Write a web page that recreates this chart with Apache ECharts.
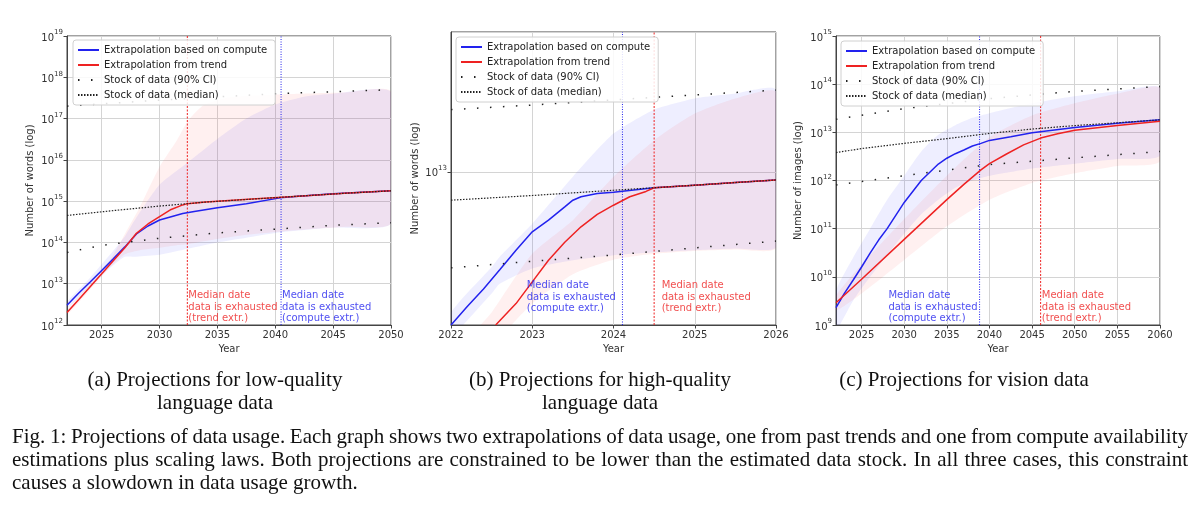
<!DOCTYPE html>
<html><head><meta charset="utf-8">
<script src="https://cdn.jsdelivr.net/npm/echarts/dist/echarts.min.js"></script>
<style>html,body{margin:0;padding:0;background:#fff}#c{width:1200px;height:512px}</style>
</head><body><div id="c"></div>
<script>
// ---------------- Panel (a): low-quality language data ----------------
const aComputeYears = [2022,2023,2024,2025,2026,2027,2028,2029,2030,2031,2032,2033,2035,2037.5,2040.4,2042,2045,2050];
const aComputeVals  = [3.0e12,5.9e12,1.1e13,2.1e13,4.0e13,7.8e13,1.6e14,2.5e14,3.5e14,4.2e14,5.0e14,5.6e14,6.9e14,8.7e14,1.2e15,1.32e15,1.51e15,1.78e15];
const aTrendYears = [2022,2023,2024,2025,2026,2027,2028,2029,2030,2031,2032,2032.4,2034,2038,2042,2046,2050];
const aTrendVals  = [2.0e12,4.1e12,8.5e12,1.74e13,3.6e13,7.4e13,1.66e14,2.8e14,4.2e14,6.3e14,8.1e14,8.7e14,9.5e14,1.12e15,1.32e15,1.55e15,1.78e15];
const aMedianYears = [2022,2026,2030,2034,2038,2042,2046,2050];
const aMedianVals  = [4.5e14,5.9e14,7.6e14,9.5e14,1.12e15,1.32e15,1.55e15,1.78e15];
const aCIUpYears = [2022,2030,2040,2050];
const aCIUpVals  = [2.0e17,2.8e17,4.0e17,5.0e17];
const aCILoYears = [2022,2025,2030,2035,2040,2045,2050];
const aCILoVals  = [5.7e13,8.5e13,1.26e14,1.7e14,2.1e14,2.6e14,3.0e14];
const aTrendBandYears = [2022,2024,2025.7,2027,2028.3,2030,2031.5,2032.5,2033.8,2035.8,2038,2042,2046,2050];
const aTrendBandUp = [2.3e12,1.0e13,3.7e13,1.6e14,7.2e14,6.8e15,3.0e16,9.1e16,2.1e17,3.2e17,3.6e17,4.0e17,4.3e17,4.5e17];
const aTrendBandLo = [1.74e12,7.2e12,2.5e13,5.2e13,6.5e13,7.4e13,8.5e13,9.1e13,1.07e14,1.32e14,1.58e14,2.0e14,2.4e14,2.9e14];
const aComputeBandYears = [2022,2024,2026,2027,2028,2030,2032.5,2035,2037.5,2040,2042.5,2045,2050];
const aComputeBandUp = [3.6e12,1.4e13,6.3e13,1.4e14,4.0e14,2.5e15,8.9e15,3.2e16,1.0e17,2.2e17,3.4e17,4.0e17,4.3e17];
const aComputeBandLo = [2.5e12,8.9e12,2.8e13,4.5e13,4.5e13,5.0e13,7.1e13,1.0e14,1.3e14,1.7e14,2.0e14,2.3e14,2.9e14];
const aVlineTrend = 2032.4, aVlineCompute = 2040.5;
const aXTicks = [2025,2030,2035,2040,2045,2050];

// ---------------- Panel (b): high-quality language data ----------------
const bComputeYears = [2022,2022.2,2022.4,2022.6,2022.8,2023,2023.2,2023.4,2023.5,2023.6,2023.8,2024,2024.5,2025,2025.5,2026];
const bComputeVals  = [3.0e12,3.47e12,3.98e12,4.63e12,5.4e12,6.24e12,6.84e12,7.59e12,8.0e12,8.22e12,8.43e12,8.51e12,8.82e12,9.0e12,9.19e12,9.38e12];
const bTrendYears = [2022.55,2022.8,2023,2023.2,2023.4,2023.6,2023.8,2024,2024.2,2024.4,2024.5,2025,2025.5,2026];
const bTrendVals  = [3.0e12,3.55e12,4.21e12,4.99e12,5.75e12,6.49e12,7.16e12,7.69e12,8.22e12,8.57e12,8.82e12,9.0e12,9.19e12,9.38e12];
const bMedianYears = [2022,2023,2024,2025,2026];
const bMedianVals  = [8.0e12,8.3e12,8.65e12,9.0e12,9.38e12];
const bCIYears = [2022,2023,2024,2025,2026];
const bCIUpVals = [1.63e13,1.69e13,1.76e13,1.83e13,1.9e13];
const bCILoVals = [4.7e12,4.95e12,5.2e12,5.5e12,5.8e12];
const bComputeBandYears = [2022,2022.5,2022.6,2023,2023.5,2024,2024.5,2025,2025.5,2026];
const bComputeBandUp = [3.3e12,4.73e12,5.13e12,6.65e12,9.62e12,1.35e13,1.63e13,1.78e13,1.85e13,1.9e13];
const bComputeBandLo = [2.75e12,3.84e12,4.15e12,4.68e12,4.99e12,5.19e12,5.31e12,5.4e12,5.47e12,5.55e12];
const bTrendBandYears = [2022.3,2022.5,2023,2023.5,2024,2024.5,2025,2025.5,2026];
const bTrendBandUp = [2.82e12,3.31e12,5.25e12,6.84e12,9.62e12,1.28e13,1.58e13,1.78e13,1.87e13];
const bTrendBandLo = [2.0e12,2.51e12,3.55e12,4.47e12,5.01e12,5.25e12,5.37e12,5.43e12,5.5e12];
const bVlineCompute = 2024.11, bVlineTrend = 2024.5;
const bXTicks = [2022,2023,2024,2025,2026];

// ---------------- Panel (c): vision data ----------------
const cComputeYears = [2022,2023,2024,2025,2026,2027,2028,2030,2032,2034,2035,2036,2037,2038,2039,2040,2042.5,2045,2050,2055,2060];
const cComputeVals  = [2.3e9,4.6e9,8.5e9,1.6e10,3.1e10,5.8e10,1.0e11,3.5e11,1.0e12,2.2e12,2.9e12,3.6e12,4.3e12,5.2e12,5.9e12,6.8e12,8.1e12,9.8e12,1.26e13,1.55e13,1.82e13];
const cTrendYears = [2022,2025,2030,2035,2037,2039,2040,2042,2044,2046,2048,2050,2055,2060];
const cTrendVals  = [2.9e9,8.9e9,6.0e10,4.0e11,8.3e11,1.66e12,2.24e12,3.55e12,5.5e12,7.6e12,9.3e12,1.1e13,1.38e13,1.7e13];
const cMedianYears = [2022,2025,2030,2035,2040,2045,2050,2055,2060];
const cMedianVals  = [3.8e12,4.6e12,5.9e12,7.4e12,9.5e12,1.17e13,1.38e13,1.58e13,1.82e13];
const cCIYears = [2022,2030,2040,2050,2060];
const cCIUpVals = [1.86e13,3.1e13,5.0e13,7.1e13,8.9e13];
const cCILoVals = [8.1e11,1.26e12,2.14e12,2.95e12,4.0e12];
const cComputeBandYears = [2022,2024,2026,2028,2030,2032,2034,2036,2038,2040,2045,2050,2055,2060];
const cComputeBandUp = [5.0e9,2.5e10,1.0e11,4.0e11,1.26e12,4.0e12,8.9e12,1.41e13,2.0e13,2.5e13,4.0e13,5.6e13,7.1e13,8.5e13];
const cComputeBandLo = [7.9e8,3.2e9,1.0e10,2.8e10,7.9e10,2.0e11,4.0e11,7.1e11,1.0e12,1.26e12,1.78e12,2.24e12,2.8e12,3.3e12];
const cTrendBandYears = [2022,2025,2030,2035,2040,2045,2050,2055,2060];
const cTrendBandUp = [4.0e9,1.78e10,1.58e11,1.26e12,7.9e12,2.24e13,4.0e13,6.3e13,8.3e13];
const cTrendBandLo = [2.0e9,4.5e9,2.24e10,1.12e11,4.0e11,8.9e11,1.41e12,2.0e12,2.5e12];
const cVlineCompute = 2038.84, cVlineTrend = 2046.0;
const cXTicks = [2025,2030,2035,2040,2045,2050,2055,2060];

// ---------------- Texts ----------------
const legendNames = ['Extrapolation based on compute','Extrapolation from trend','Stock of data (90% CI)','Stock of data (median)'];
const annTrend = 'Median date\ndata is exhausted\n(trend extr.)';
const annCompute = 'Median date\ndata is exhausted\n(compute extr.)';
const subCaptions = ['(a) Projections for low-quality\nlanguage data','(b) Projections for high-quality\nlanguage data','(c) Projections for vision data'];
const figCaptionLines = [
 'Fig. 1: Projections of data usage. Each graph shows two extrapolations of data usage, one from past trends and one from compute availability',
 'estimations plus scaling laws. Both projections are constrained to be lower than the estimated data stock. In all three cases, this constraint',
 'causes a slowdown in data usage growth.'
];

// ---------------- Helpers ----------------
const FONT = 'DejaVu Sans';
const BLUE = '#2222ee', RED = '#ee2222', DOT = '#222';
const pairs = (xs, ys) => xs.map((x, i) => [x, ys[i]]);
const mctx = document.createElement('canvas').getContext('2d');
mctx.font = '10px "DejaVu Sans"';
const annW = mctx.measureText('data is exhausted').width;

function lineS(gi, name, xs, ys, color, width, type, z) {
  return {type:'line', name, xAxisIndex:gi, yAxisIndex:gi, data:pairs(xs, ys), symbol:'none', showSymbol:false,
    smooth:false, silent:true, z, lineStyle:{color, width, type}, itemStyle:{color}, animation:false};
}
function bandS(gi, xs, lo, up, fill) {
  return {type:'custom', xAxisIndex:gi, yAxisIndex:gi, clip:true, silent:true, z:1, animation:false,
    data: xs.map((x, i) => [x, lo[i], up[i]]), encode:{x:0, y:[1,2]},
    renderItem: function (params, api) {
      if (params.dataIndex !== 0) return null;
      const pts = [];
      for (let i = 0; i < xs.length; i++) pts.push(api.coord([xs[i], up[i]]));
      for (let i = xs.length - 1; i >= 0; i--) pts.push(api.coord([xs[i], lo[i]]));
      return {type:'polygon', shape:{points:pts, smooth:0.2}, style:{fill}};
    }};
}
function vlineS(gi, x, ymin, ymax, color, type) {
  return {type:'line', xAxisIndex:gi, yAxisIndex:gi, data:[[x, ymin],[x, ymax]], symbol:'none', silent:true, z:3,
    lineStyle:{color, width:1, type}, animation:false};
}
function annS(gi, x, y, text, color, side, gap, lift) {
  return {type:'scatter', xAxisIndex:gi, yAxisIndex:gi, z:6, silent:true, symbolSize:1, animation:false,
    itemStyle:{color:'rgba(0,0,0,0)'}, data:[[x, y]],
    label:{show:true, formatter:text, color, fontFamily:FONT, fontSize:10, lineHeight:11.7, align:'left', verticalAlign:'bottom',
      position: side === 'right' ? [gap, -lift] : [-gap - annW, -lift]}};
}
function panelSeries(gi, d) {
  return [
    bandS(gi, d.cbx, d.cblo, d.cbup, 'rgba(40,40,255,0.08)'),
    bandS(gi, d.tbx, d.tblo, d.tbup, 'rgba(255,40,40,0.07)'),
    vlineS(gi, d.vt, d.ymin, d.ymax, RED, [2,1.5]),
    vlineS(gi, d.vc, d.ymin, d.ymax, BLUE, [1,1.5]),
    lineS(gi, legendNames[0], d.cx, d.cy, BLUE, 1.5, 'solid', 4),
    lineS(gi, legendNames[1], d.tx, d.ty, RED, 1.5, 'solid', 4),
    lineS(gi, legendNames[2], d.ciux, d.ciuy, DOT, 1.5, [1.5,11.5], 5),
    lineS(gi, legendNames[2], d.cilx, d.cily, DOT, 1.5, [1.5,11.5], 5),
    lineS(gi, legendNames[3], d.mx, d.my, DOT, 1.2, [1.5,1.5], 5),
  ].concat(d.ann);
}

function supFormatter(v) {
  const e = Math.log10(v);
  if (Math.abs(e - Math.round(e)) > 1e-6) return '';
  return '{b|10}{s|' + Math.round(e) + '}';
}
const yRich = {b:{fontFamily:FONT, fontSize:10, color:'#333', verticalAlign:'bottom', lineHeight:14},
               s:{fontFamily:FONT, fontSize:7, color:'#333', verticalAlign:'top', lineHeight:14}};

function xAxisDef(gi, min, max, ticks) {
  return {type:'value', gridIndex:gi, min, max, name:'Year', nameLocation:'middle', nameGap:18,
    nameTextStyle:{fontFamily:FONT, fontSize:10, color:'#333'},
    axisLine:{show:true, lineStyle:{color:'#444', width:1}},
    axisTick:{show:true, length:3.5, lineStyle:{color:'#444'}, customValues:ticks},
    axisLabel:{customValues:ticks, formatter:(v) => String(Math.round(v)), fontFamily:FONT, fontSize:10, color:'#333', margin:5, hideOverlap:false},
    splitLine:{show:true, lineStyle:{color:'#d4d4d4', width:1}}};
}
function yAxisDef(gi, min, max, name, gap, showEnds) {
  return {type:'log', logBase:10, gridIndex:gi, min, max, splitNumber:8, name, nameLocation:'middle', nameGap:gap,
    nameTextStyle:{fontFamily:FONT, fontSize:10, color:'#333'},
    axisLine:{show:true, lineStyle:{color:'#444', width:1}},
    axisTick:{show:true, length:3.5, lineStyle:{color:'#444'}},
    axisLabel:{formatter:supFormatter, rich:yRich, margin:4, showMinLabel:showEnds, showMaxLabel:showEnds, hideOverlap:false},
    splitLine:{show:true, lineStyle:{color:'#d4d4d4', width:1}}};
}
function legendDef(left, top) {
  return {data:legendNames, orient:'vertical', left, top, itemWidth:21, itemHeight:10, itemGap:5, itemTextGap:8,
    itemStyle:{opacity:0}, icon:undefined,
    textStyle:{fontFamily:FONT, fontSize:10, color:'#222'}, backgroundColor:'rgba(255,255,255,0.85)',
    borderColor:'#d0d0d0', borderWidth:1, borderRadius:3, padding:[5,8,5,4], z:20, selectedMode:false};
}

const A = {cx:aComputeYears, cy:aComputeVals, tx:aTrendYears, ty:aTrendVals, mx:aMedianYears, my:aMedianVals,
  ciux:aCIUpYears, ciuy:aCIUpVals, cilx:aCILoYears, cily:aCILoVals,
  cbx:aComputeBandYears, cblo:aComputeBandLo, cbup:aComputeBandUp, tbx:aTrendBandYears, tblo:aTrendBandLo, tbup:aTrendBandUp,
  vt:aVlineTrend, vc:aVlineCompute, ymin:1e12, ymax:1e19,
  ann:[annS(0, aVlineTrend, 1e12, annTrend, RED, 'right', 1.5, 0), annS(0, aVlineCompute, 1e12, annCompute, BLUE, 'right', 1.5, 0)]};
const B = {cx:bComputeYears, cy:bComputeVals, tx:bTrendYears, ty:bTrendVals, mx:bMedianYears, my:bMedianVals,
  ciux:bCIYears, ciuy:bCIUpVals, cilx:bCIYears, cily:bCILoVals,
  cbx:bComputeBandYears, cblo:bComputeBandLo, cbup:bComputeBandUp, tbx:bTrendBandYears, tblo:bTrendBandLo, tbup:bTrendBandUp,
  vt:bVlineTrend, vc:bVlineCompute, ymin:3e12, ymax:3e13,
  ann:[annS(1, bVlineCompute, 3e12, annCompute, BLUE, 'left', 6, 10), annS(1, bVlineTrend, 3e12, annTrend, RED, 'right', 8, 10)]};
const C = {cx:cComputeYears, cy:cComputeVals, tx:cTrendYears, ty:cTrendVals, mx:cMedianYears, my:cMedianVals,
  ciux:cCIYears, ciuy:cCIUpVals, cilx:cCIYears, cily:cCILoVals,
  cbx:cComputeBandYears, cblo:cComputeBandLo, cbup:cComputeBandUp, tbx:cTrendBandYears, tblo:cTrendBandLo, tbup:cTrendBandUp,
  vt:cVlineTrend, vc:cVlineCompute, ymin:1e9, ymax:1e15,
  ann:[annS(2, cVlineCompute, 1e9, annCompute, BLUE, 'left', 1.5, 0), annS(2, cVlineTrend, 1e9, annTrend, RED, 'right', 1.7, 0)]};

// ---------------- Captions (graphic text) ----------------
const CAP_FONT = '21px "Liberation Serif"';
const cctx = document.createElement('canvas').getContext('2d');
cctx.font = CAP_FONT;
const graphics = [];
const subX = [215, 600, 964];
subCaptions.forEach((t, i) => {
  graphics.push({type:'text', x:subX[i], y:369, style:{text:t, font:CAP_FONT, fill:'#111', align:'center', verticalAlign:'top', lineHeight:23}, silent:true});
});
const capLeft = 12, capRight = 1188, capY = [437, 460, 483];
figCaptionLines.forEach((line, li) => {
  const words = line.split(' ');
  const widths = words.map(w => cctx.measureText(w).width);
  const total = widths.reduce((s, w) => s + w, 0);
  const justify = li < figCaptionLines.length - 1;
  const gap = justify ? (capRight - capLeft - total) / (words.length - 1) : cctx.measureText(' ').width;
  let x = capLeft;
  words.forEach((w, i) => {
    graphics.push({type:'text', x, y:capY[li], style:{text:w, font:CAP_FONT, fill:'#111', align:'left', verticalAlign:'middle'}, silent:true});
    x += widths[i] + gap;
  });
});

const chart = echarts.init(document.getElementById('c'), null, {renderer:'canvas'});
chart.setOption({
  animation:false,
  backgroundColor:'#fff',
  grid:[
    {left:67, top:36, width:324, height:289, show:true, borderColor:'#444', borderWidth:1, outerBoundsMode:'none', containLabel:false},
    {left:451, top:32, width:325, height:293, show:true, borderColor:'#444', borderWidth:1, outerBoundsMode:'none', containLabel:false},
    {left:836, top:36, width:324, height:289, show:true, borderColor:'#444', borderWidth:1, outerBoundsMode:'none', containLabel:false}
  ],
  xAxis:[xAxisDef(0, 2022, 2050, aXTicks), xAxisDef(1, 2022, 2026, bXTicks), xAxisDef(2, 2022, 2060, cXTicks)],
  yAxis:[yAxisDef(0, 1e12, 1e19, 'Number of words (log)', 32, true), yAxisDef(1, 3e12, 3e13, 'Number of words (log)', 31, false), yAxisDef(2, 1e9, 1e15, 'Number of images (log)', 33, true)],
  legend:[legendDef(73, 40), legendDef(456, 37), legendDef(841, 41)],
  series:[].concat(panelSeries(0, A), panelSeries(1, B), panelSeries(2, C)),
  graphic:graphics
});
</script></body></html>
